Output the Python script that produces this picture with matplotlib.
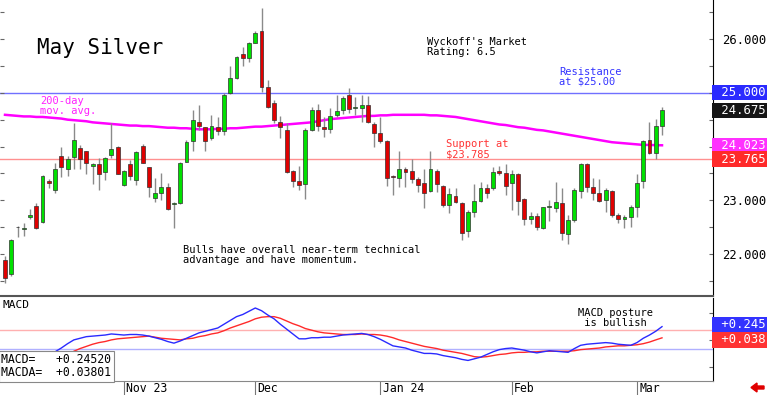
import numpy as np
import pandas as pd
import matplotlib
matplotlib.use('Agg')
import matplotlib.pyplot as plt
from matplotlib.patches import FancyArrow
from matplotlib.transforms import blended_transform_factory

plt.rcParams['font.family'] = ['DejaVu Sans Mono']

# trading days (exchange holidays removed)
holidays = ['2023-11-23', '2023-12-25', '2024-01-01', '2024-01-15', '2024-02-19']
dates = pd.bdate_range('2023-10-05', '2024-03-07', freq='C', holidays=holidays)

opens = [21.89, 21.62, 22.51, 22.47, 22.68, 22.89, 22.59, 23.36, 23.19, 23.82,
         23.59, 23.80, 23.98, 23.92, 23.64, 23.67, 23.53, 23.84, 24.00, 23.28,
         23.67, 23.38, 24.01, 23.61, 23.04, 23.13, 23.25, 22.93, 22.94, 23.72,
         24.10, 24.46, 24.36, 24.15, 24.36, 24.28, 24.99, 25.27, 25.72, 25.64,
         25.93, 26.15, 25.10, 24.81, 24.46, 24.31, 23.54, 23.36, 23.30, 24.31,
         24.68, 24.37, 24.32, 24.58, 24.68, 24.96, 24.72, 24.71, 24.77, 24.41,
         24.26, 24.10, 23.45, 23.42, 23.59, 23.54, 23.40, 23.32, 23.18, 23.55,
         23.27, 22.92, 23.08, 22.94, 22.43, 22.79, 22.99, 23.22, 23.23, 23.54,
         23.50, 23.32, 23.49, 23.02, 22.65, 22.71, 22.49, 22.87, 22.85, 22.94,
         22.37, 22.63, 23.18, 23.67, 23.25, 23.14, 23.00, 23.17, 22.73, 22.66,
         22.68, 22.88, 23.36, 24.12, 23.88, 24.39]
highs = [21.97, 22.28, 22.52, 22.58, 22.83, 22.95, 23.47, 23.40, 23.70, 24.00,
         23.82, 24.43, 24.03, 23.92, 23.69, 23.78, 23.81, 24.43, 24.01, 23.56,
         23.74, 23.92, 24.05, 23.62, 23.41, 23.50, 23.33, 22.97, 23.72, 24.13,
         24.68, 24.77, 24.37, 24.59, 24.55, 24.99, 25.50, 25.69, 25.86, 25.95,
         26.14, 26.57, 25.24, 24.87, 24.57, 24.43, 23.56, 23.64, 24.34, 24.73,
         24.79, 24.54, 24.71, 24.96, 24.94, 25.08, 24.93, 24.96, 24.94, 24.46,
         24.55, 24.12, 23.47, 23.92, 23.61, 23.76, 23.44, 23.59, 23.92, 23.59,
         23.28, 23.22, 23.22, 22.97, 22.82, 23.31, 23.34, 23.31, 23.62, 23.64,
         23.67, 23.56, 23.51, 23.04, 22.79, 22.76, 22.88, 23.00, 23.34, 23.22,
         22.73, 23.23, 23.70, 23.69, 23.41, 23.39, 23.22, 23.19, 22.76, 22.73,
         22.91, 23.48, 24.13, 24.46, 24.52, 24.74]
lows = [21.47, 21.60, 22.31, 22.33, 22.65, 22.46, 22.58, 23.22, 23.13, 23.44,
        23.46, 23.59, 23.59, 23.49, 23.31, 23.19, 23.38, 23.78, 23.48, 23.27,
        23.38, 23.28, 23.69, 23.07, 22.97, 23.00, 22.82, 22.48, 22.93, 23.71,
        23.92, 24.31, 23.92, 24.13, 24.21, 24.21, 24.98, 25.25, 25.50, 25.57,
        25.92, 25.02, 24.71, 24.43, 24.15, 23.50, 23.25, 23.19, 23.02, 24.29,
        24.28, 24.18, 24.26, 24.55, 24.61, 24.62, 24.59, 24.46, 24.43, 24.00,
        24.06, 23.27, 23.10, 23.24, 23.25, 23.32, 23.16, 22.85, 23.15, 23.16,
        22.87, 22.76, 22.95, 22.27, 22.31, 22.68, 22.97, 23.04, 23.19, 23.47,
        23.10, 22.82, 22.73, 22.54, 22.55, 22.45, 22.46, 22.62, 22.79, 22.26,
        22.19, 22.60, 23.04, 23.16, 23.00, 22.97, 22.79, 22.68, 22.57, 22.48,
        22.51, 22.69, 23.22, 23.87, 23.77, 24.21]
closes = [21.55, 22.27, 22.50, 22.49, 22.73, 22.48, 23.46, 23.33, 23.58, 23.62,
          23.76, 24.12, 23.77, 23.70, 23.67, 23.48, 23.79, 23.95, 23.49, 23.55,
          23.45, 23.90, 23.70, 23.25, 23.13, 23.24, 22.83, 22.94, 23.69, 24.09,
          24.49, 24.39, 24.11, 24.39, 24.28, 24.96, 25.27, 25.66, 25.65, 25.92,
          26.11, 25.11, 24.74, 24.49, 24.36, 23.52, 23.35, 23.28, 24.31, 24.68,
          24.39, 24.33, 24.57, 24.66, 24.90, 24.69, 24.74, 24.77, 24.45, 24.25,
          24.10, 23.42, 23.43, 23.59, 23.53, 23.39, 23.28, 23.14, 23.58, 23.30,
          22.91, 23.11, 22.96, 22.40, 22.79, 22.99, 23.22, 23.13, 23.52, 23.50,
          23.26, 23.49, 22.99, 22.65, 22.71, 22.51, 22.87, 22.90, 22.97, 22.39,
          22.63, 23.19, 23.67, 23.25, 23.14, 22.99, 23.19, 22.73, 22.66, 22.68,
          22.87, 23.33, 24.10, 23.88, 24.39, 24.675]
ma200 = [24.59, 24.58, 24.57, 24.56, 24.56, 24.55, 24.55, 24.54, 24.53, 24.52,
         24.50, 24.49, 24.48, 24.47, 24.45, 24.44, 24.43, 24.42, 24.41, 24.40,
         24.39, 24.39, 24.38, 24.38, 24.37, 24.36, 24.35, 24.35, 24.34, 24.34,
         24.33, 24.32, 24.32, 24.32, 24.33, 24.33, 24.34, 24.34, 24.35, 24.36,
         24.37, 24.37, 24.38, 24.39, 24.40, 24.41, 24.42, 24.43, 24.44, 24.45,
         24.47, 24.49, 24.51, 24.52, 24.53, 24.54, 24.55, 24.56, 24.57, 24.57,
         24.58, 24.58, 24.59, 24.59, 24.59, 24.59, 24.59, 24.59, 24.58, 24.58,
         24.57, 24.56, 24.55, 24.53, 24.51, 24.49, 24.47, 24.45, 24.43, 24.41,
         24.40, 24.38, 24.36, 24.35, 24.33, 24.31, 24.30, 24.28, 24.26, 24.24,
         24.22, 24.20, 24.18, 24.16, 24.14, 24.12, 24.10, 24.08, 24.07, 24.06,
         24.05, 24.04, 24.03, 24.03, 24.025, 24.023]

nan = np.nan
macd = [nan] * 6 + [
    -0.38, -0.30, -0.22, -0.15, -0.07, 0.00, 0.03, 0.06, 0.07, 0.08,
    0.09, 0.11, 0.10, 0.09, 0.10, 0.10, 0.09, 0.07, 0.04, 0.01,
    -0.03, -0.06, -0.02, 0.03, 0.08, 0.13, 0.16, 0.19, 0.22, 0.29,
    0.36, 0.43, 0.47, 0.53, 0.59, 0.54, 0.46, 0.39, 0.29, 0.20,
    0.11, 0.02, 0.02, 0.04, 0.04, 0.05, 0.05, 0.07, 0.09, 0.10,
    0.11, 0.12, 0.10, 0.06, 0.01, -0.05, -0.11, -0.13, -0.15, -0.19,
    -0.22, -0.25, -0.25, -0.26, -0.29, -0.31, -0.33, -0.36, -0.38, -0.35,
    -0.32, -0.27, -0.22, -0.18, -0.16, -0.15, -0.17, -0.19, -0.22, -0.24,
    -0.22, -0.20, -0.21, -0.22, -0.23, -0.16, -0.10, -0.08, -0.07, -0.06,
    -0.05, -0.06, -0.08, -0.09, -0.10, -0.05, 0.03, 0.09, 0.16, 0.2452]
macda = [nan] * 9 + [
    -0.37, -0.29, -0.21, -0.16, -0.12, -0.08, -0.05, -0.03, 0.00, 0.02,
    0.03, 0.04, 0.05, 0.06, 0.07, 0.05, 0.03, 0.02, 0.01, 0.00,
    0.02, 0.03, 0.06, 0.08, 0.11, 0.13, 0.17, 0.22, 0.26, 0.30,
    0.34, 0.39, 0.42, 0.43, 0.43, 0.40, 0.35, 0.30, 0.26, 0.21,
    0.18, 0.15, 0.13, 0.12, 0.11, 0.10, 0.10, 0.10, 0.11, 0.10,
    0.10, 0.09, 0.07, 0.04, 0.00, -0.03, -0.06, -0.09, -0.12, -0.14,
    -0.16, -0.19, -0.21, -0.23, -0.25, -0.28, -0.31, -0.32, -0.31, -0.29,
    -0.27, -0.26, -0.24, -0.23, -0.23, -0.22, -0.22, -0.21, -0.21, -0.21,
    -0.21, -0.21, -0.20, -0.18, -0.17, -0.16, -0.15, -0.13, -0.12, -0.11,
    -0.11, -0.10, -0.09, -0.07, -0.04, 0.00, 0.03801]

month_labels = ['Nov 23', 'Dec', 'Jan 24', 'Feb', 'Mar']
resistance = 25.0
support = 23.765
macd_upper, macd_lower = 0.19, -0.175

GREEN = '#00e000'
RED = '#e00000'

fig = plt.figure(figsize=(7.68, 3.95), dpi=100)
ax = fig.add_axes([0, 99 / 395, 713 / 768, 296 / 395])
ax2 = fig.add_axes([0, 14.5 / 395, 713 / 768, 82.5 / 395])

x = np.arange(len(dates))
o = np.array(opens); c = np.array(closes)
up = c >= o
colors = np.where(up, GREEN, RED)
bottoms = np.minimum(o, c)
heights = np.maximum(np.abs(c - o), 0.012)

# price panel
ax.axhline(resistance, color='#7070ff', lw=1, zorder=1)
ax.axhline(support, color='#ff9090', lw=1, zorder=1)
ax.plot(x, ma200, color='#ff00ff', lw=1.8, zorder=2)
ax.vlines(x, lows, highs, color='#8a8a8a', lw=1, zorder=3)
ax.bar(x, heights, 0.62, bottom=bottoms, color=colors, edgecolor='#303030',
       lw=0.5, zorder=4)

ax.set_xlim(-0.8, 113.15)
ax.set_ylim(21.219, 26.726)
ax.set_yticks(np.arange(21.5, 26.6, 0.5))
box_vals = [resistance, closes[-1], ma200[-1], support]
ax.set_yticklabels([f'{v:.3f}' if v % 1 == 0 and min(abs(v - b) for b in box_vals) > 0.3 else ''
                    for v in ax.get_yticks()])
ax.yaxis.tick_right()
ax.tick_params(axis='y', left=True, right=True, direction='in', length=3,
               color='#666666', labelsize=8.8, pad=6.5)
ax.tick_params(axis='x', bottom=False, labelbottom=False)
for s in ['top', 'left']:
    ax.spines[s].set_visible(False)
ax.spines['right'].set_color('black')
ax.spines['right'].set_linewidth(0.8)
ax.spines['bottom'].set_color('#555555')
ax.spines['bottom'].set_linewidth(1.5)

tr = blended_transform_factory(ax.transAxes, ax.transData)
for val, fc in [(resistance, '#2a2aff'), (closes[-1], '#151515'),
                (ma200[-1], '#ff30ff'), (support, '#ff2a2a')]:
    ax.text(1.001, val, f' {val:.3f}', transform=tr, ha='left', va='center',
            color='white', fontsize=8.8,
            bbox=dict(boxstyle='square,pad=0.1', fc=fc, ec='none'), zorder=6)

ax.text(0.052, 0.838, 'May Silver', transform=ax.transAxes, fontsize=15,
        va='center', ha='left')
ax.text(0.599, 0.875, "Wyckoff's Market\nRating: 6.5", transform=ax.transAxes,
        fontsize=7.5, va='top', linespacing=1.0)
ax.text(0.784, 0.774, 'Resistance\nat $25.00', transform=ax.transAxes,
        fontsize=7.5, va='top', color='#3333ff', linespacing=1.0)
ax.text(0.056, 0.676, '200-day\nmov. avg.', transform=ax.transAxes,
        fontsize=7.5, va='top', color='#ff22ff', linespacing=1.0)
ax.text(0.626, 0.530, 'Support at\n$23.785', transform=ax.transAxes,
        fontsize=7.5, va='top', color='#ff3333', linespacing=1.0)
ax.text(0.257, 0.172, 'Bulls have overall near-term technical\nadvantage and have momentum.',
        transform=ax.transAxes, fontsize=7.5, va='top', linespacing=1.0)

# MACD panel
ax2.axhline(macd_upper, color='#ffb0b0', lw=1, zorder=1)
ax2.axhline(macd_lower, color='#b0b0ff', lw=1, zorder=1)
ax2.plot(x, macda, color='#ff2a2a', lw=1, zorder=2)
ax2.plot(x, macd, color='#2a2aff', lw=1, zorder=3)
ax2.set_xlim(-0.8, 113.15)
ax2.set_ylim(-0.751, 0.775)
ax2.set_yticks([-0.5, 0, 0.5])
ax2.yaxis.tick_right()
ax2.tick_params(axis='y', left=False, right=True, direction='in', length=3,
                color='#666666', labelright=False)
for s in ['top', 'left']:
    ax2.spines[s].set_visible(False)
ax2.spines['right'].set_color('black')
ax2.spines['right'].set_linewidth(0.8)
ax2.spines['bottom'].set_color('#888888')

month_pos = [i for i in range(1, len(dates)) if dates[i].month != dates[i - 1].month]
ax2.set_xticks(month_pos)
ax2.tick_params(axis='x', direction='out', length=10.5, width=0.8,
                color='#777777', labelbottom=False)
for pos, lab in zip(month_pos, month_labels):
    ax2.annotate(lab, xy=(pos, 0), xycoords=('data', 'axes fraction'),
                 xytext=(1.5, -5.6), textcoords='offset points',
                 ha='left', va='center', fontsize=8.3)

ax2.text(0.003, 0.975, 'MACD', transform=ax2.transAxes, fontsize=8,
         va='top', ha='left')
ax2.text(0.81, 0.88, 'MACD posture\n is bullish', transform=ax2.transAxes,
         fontsize=7.5, va='top', linespacing=1.0)
ax2.text(0.002, 0.015, f'MACD=   {macd[-1]:+.5f}\nMACDA=  {macda[-1]:+.5f}',
         transform=ax2.transAxes, fontsize=8.3, va='bottom', ha='left',
         linespacing=1.0, zorder=5,
         bbox=dict(boxstyle='square,pad=0.2', fc='white', ec='#888888', lw=0.8))

tr2 = blended_transform_factory(ax2.transAxes, ax2.transData)
ax2.annotate(f' {macd[-1]:+.3f}', xy=(1.001, macd[-1]), xycoords=tr2,
             xytext=(0, 1.5), textcoords='offset points', ha='left', va='center',
             color='white', fontsize=8.8,
             bbox=dict(boxstyle='square,pad=0.1', fc='#3333ff', ec='none'))
ax2.annotate(f' {macda[-1]:+.3f}', xy=(1.001, macda[-1]), xycoords=tr2,
             xytext=(0, -1.5), textcoords='offset points', ha='left', va='center',
             color='white', fontsize=8.8,
             bbox=dict(boxstyle='square,pad=0.1', fc='#ff3333', ec='none'))

# little red arrow in the corner
fig.patches.append(FancyArrow(764 / 768, 7.5 / 395, -13 / 768, 0, width=3 / 395,
                              head_width=9 / 395, head_length=6 / 768,
                              length_includes_head=True, color='#e00000',
                              transform=fig.transFigure, figure=fig))

fig.savefig('out.png', dpi=100)
